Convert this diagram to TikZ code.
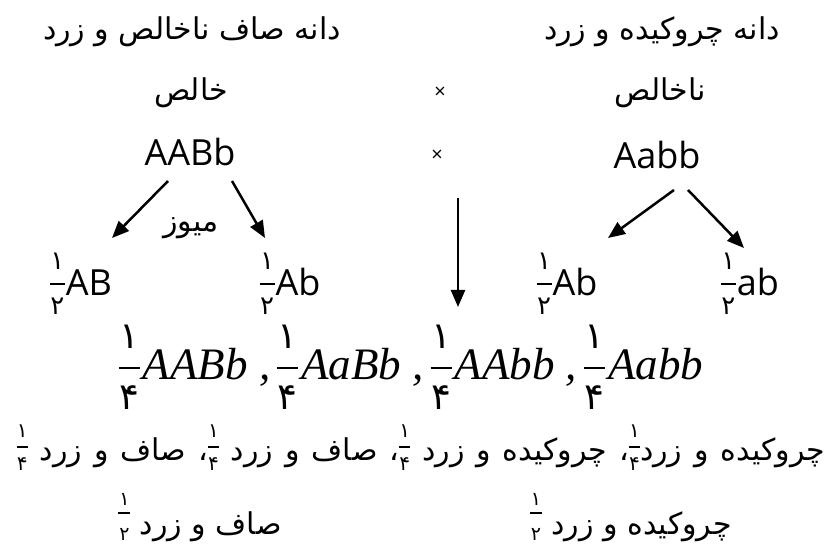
\documentclass[tikz,border=0pt]{standalone}
\usepackage{fontspec}
\setmainfont{Open Sans}
\newfontfamily\fa[Script=Arabic]{DejaVu Sans}
\newfontfamily\mi{Liberation Serif}
\TeXXeTstate=1
\usetikzlibrary{arrows.meta}
% fraction with persian digits: size, num, den, num raise, bar raise, den lower, bar width
\newcommand\frc[7]{\hbox{%
  \setbox0\hbox{\fontsize{#1}{#1}\selectfont\fa\upshape #2}%
  \setbox2\hbox{\fontsize{#1}{#1}\selectfont\fa\upshape #3}%
  \rlap{\hbox to#7{\hss\raise#4\box0\hss}}%
  \rlap{\hbox to#7{\hss\lower#6\box2\hss}}%
  \raise#5\hbox{\vrule width#7 height 1.25pt depth 1.25pt}}}
\newcommand\halfG{\frc{26}{۱}{۲}{26pt}{12pt}{19pt}{15pt}\kern1pt}
\newcommand\quarterO{\frc{37}{۱}{۴}{32pt}{12pt}{30pt}{21pt}\kern3pt}
\newcommand\quarterP{\frc{20}{۱}{۴}{23pt}{13pt}{10pt}{11pt}}
\newcommand\halfP{\frc{19}{۱}{۲}{29pt}{21pt}{6pt}{12pt}}
\tikzset{%
  fatext/.style={font=\fontsize{30}{36}\selectfont\fa, inner sep=0pt},%
  lattext/.style={font=\fontsize{36}{40}\selectfont, inner sep=0pt},%
  mathtext/.style={font=\fontsize{45}{50}\selectfont\mi\itshape, inner sep=0pt},%
  arr/.style={line width=2.5pt, -{Triangle[length=17pt,width=14pt]}},%
}
\begin{document}
\begin{tikzpicture}[x=1pt,y=-1pt]%
\useasboundingbox (0,0) rectangle (831,548);%
%
\def\rowA{32};%
\def\rowB{93};%
\def\rowC{152};%
\def\rowD{296};%
\node[fatext] (leftTitle) at (192,\rowA) {\beginR دانه صاف ناخالص و زرد\endR};%
\node[fatext] (rightTitle) at (662,\rowA) {\beginR دانه چروکیده و زرد\endR};%
\node[fatext] (leftPure) at (191,\rowB) {\beginR خالص\endR};%
\node[lattext, font=\fontsize{20}{24}\selectfont] (crossA) at (440,\rowB) {×};%
\node[fatext] (rightPure) at (660,\rowB) {\beginR ناخالص\endR};%
%
\node[lattext] (leftParent) at (190,\rowC) {AABb};%
\node[lattext, font=\fontsize{20}{24}\selectfont] (crossB) at (437,156) {×};%
\node[lattext] (rightParent) at (657,155) {Aabb};%
%
\node[fatext] (meiosis) at (191,228) {\beginR میوز\endR};%
\node[lattext, anchor=base] (gamA) at (81,\rowD) {\halfG AB};%
\node[lattext, anchor=base] (gamB) at (290,\rowD) {\halfG Ab};%
\node[lattext, anchor=base] (gamC) at (567,\rowD) {\halfG Ab};%
\node[lattext, anchor=base] (gamD) at (750,\rowD) {\halfG ab};%
%
\coordinate (a1s) at (168,181);\coordinate (a1e) at (112,238);%
\coordinate (a2s) at (232,181);\coordinate (a2e) at (265,238);%
\coordinate (a3s) at (674,190);\coordinate (a3e) at (608,238);%
\coordinate (a4s) at (688,190);\coordinate (a4e) at (744,248);%
\coordinate (vs) at (458,198);\coordinate (ve) at (458,307);%
\draw[arr] (a1s) -- (a1e);%
\draw[arr] (a2s) -- (a2e);%
\draw[arr] (a3s) -- (a3e);%
\draw[arr] (a4s) -- (a4e);%
\draw[arr] (vs) -- (ve);%
%
\node[mathtext, anchor=base] (offspring) at (411,380) {\quarterO AABb ,\kern7pt\quarterO AaBb ,\kern7pt\quarterO AAbb ,\kern7pt\quarterO Aabb};%
\node[fatext, anchor=base] (pheno) at (421,460) {\spaceskip=12pt\beginR چروکیده و زرد\quarterP، چروکیده و زرد \quarterP، صاف و زرد \quarterP، صاف و زرد \quarterP\endR};%
\node[fatext, anchor=base] (ratioA) at (200,534) {\beginR صاف و زرد \halfP\endR};%
\node[fatext, anchor=base] (ratioB) at (631,534) {\beginR چروکیده و زرد \halfP\endR};%
\end{tikzpicture}
\end{document}
